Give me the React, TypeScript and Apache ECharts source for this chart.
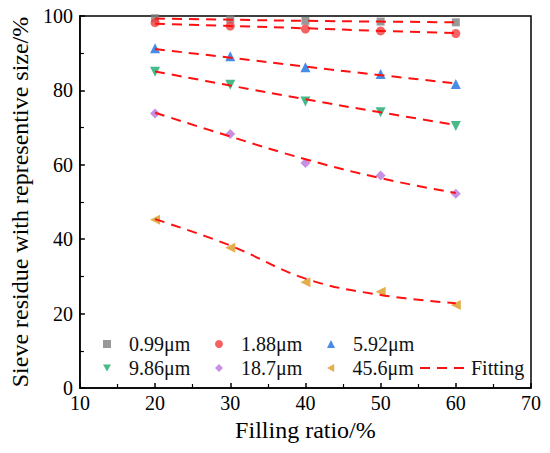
import React, { useEffect, useRef } from "react";
import * as echarts from "echarts";

const fillingRatio = [20, 30, 40, 50, 60];
const seriesNames = ["0.99μm", "1.88μm", "5.92μm", "9.86μm", "18.7μm", "45.6μm"];
const s099 = [99.4, 99.1, 98.7, 98.5, 98.3];
const s188 = [98.2, 97.3, 96.5, 96.0, 95.3];
const s592 = [91.3, 89.2, 86.2, 84.4, 81.7];
const s986 = [85.0, 81.5, 77.0, 74.1, 70.4];
const s187 = [73.8, 68.3, 60.5, 57.1, 52.2];
const s456 = [45.2, 37.7, 28.4, 25.9, 22.3];
const fit099 = [99.3, 99.0, 98.7, 98.5, 98.3];
const fit188 = [97.9, 97.3, 96.7, 96.0, 95.4];
const fit592 = [91.1, 88.8, 86.4, 84.1, 81.9];
const fit986 = [85.1, 81.3, 77.6, 74.1, 70.7];
const fit187 = [74.0, 67.6, 61.5, 56.4, 52.4];
const fit456 = [45.4, 38.3, 29.4, 25.0, 22.8];
const xTicks = [10, 20, 30, 40, 50, 60, 70];
const yTicks = [0, 20, 40, 60, 80, 100];

const values = [s099, s188, s592, s986, s187, s456];
const fits = [fit099, fit188, fit592, fit986, fit187, fit456];
const colors = ["#808080", "#f03c3c", "#1a6fdf", "#1aa86a", "#b874de", "#dc9a1e"];
const symbols = [
  "rect",
  "circle",
  "triangle",
  "path://M0,0 L10,0 L5,9 Z",
  "diamond",
  "path://M0,5 L9,0 L9,10 Z",
];
const symbolSizes = [8, 9, 10, 10, 10, 10];

const FONT = "Liberation Serif";

export default function App() {
  const ref = useRef<HTMLDivElement>(null);
  useEffect(() => {
    if (!ref.current) return;
    const chart = echarts.init(ref.current, undefined, { renderer: "svg" });
    const scatterSeries = seriesNames.map((name, i) => ({
      name,
      type: "scatter",
      data: fillingRatio.map((x, j) => [x, values[i][j]]),
      symbol: symbols[i],
      symbolSize: symbolSizes[i],
      itemStyle: { color: colors[i] },
      z: 2,
    }));
    const fitSeries = fits.map((f) => ({
      name: "Fitting",
      type: "line",
      data: fillingRatio.map((x, j) => [x, f[j]]),
      smooth: 0.4,
      showSymbol: false,
      symbol: "none",
      lineStyle: { color: "#ff1010", width: 2, type: [10, 7] },
      itemStyle: { color: "#ff1010" },
      z: 3,
    }));
    const legends: any[] = seriesNames.map((name, i) => ({
      data: [name],
      left: 103 + (i % 3) * 112,
      top: i < 3 ? 334 : 358,
      orient: "horizontal",
      padding: 0,
      itemWidth: 8,
      itemHeight: 8,
      itemGap: 0,
      textStyle: { fontFamily: FONT, fontSize: 20, color: "#111", padding: [0, 0, 0, 13] },
    }));
    legends.push({
      data: ["Fitting"],
      left: 419,
      top: 358,
      orient: "horizontal",
      padding: 0,
      itemWidth: 46,
      itemHeight: 8,
      itemGap: 0,
      itemStyle: { opacity: 0 },
      lineStyle: { type: [10, 7], width: 2, color: "#ff1010" },
      textStyle: { fontFamily: FONT, fontSize: 20, color: "#111" },
    });

    chart.setOption({
      animation: false,
      backgroundColor: "#ffffff",
      textStyle: { fontFamily: FONT },
      grid: {
        left: 70,
        right: 19,
        top: 16,
        bottom: 65,
        show: true,
        borderColor: "#000",
        borderWidth: 1.5,
      },
      legend: legends,
      xAxis: {
        type: "value",
        min: xTicks[0],
        max: xTicks[xTicks.length - 1],
        interval: 10,
        name: "Filling ratio/%",
        nameLocation: "middle",
        nameGap: 30,
        nameTextStyle: { fontFamily: FONT, fontSize: 24, color: "#000" },
        axisLine: { show: true, lineStyle: { color: "#000", width: 1.5 } },
        axisTick: { show: true, inside: true, length: 5, lineStyle: { color: "#000", width: 1.5 } },
        minorTick: { show: true, splitNumber: 2, length: 4, lineStyle: { color: "#000", width: 1.2 } },
        axisLabel: { fontFamily: FONT, fontSize: 20, color: "#000", margin: 5 },
        splitLine: { show: false },
      },
      yAxis: {
        type: "value",
        min: yTicks[0],
        max: yTicks[yTicks.length - 1],
        interval: 20,
        name: "Sieve residue with representive size/%",
        nameLocation: "middle",
        nameGap: 38,
        nameTextStyle: { fontFamily: FONT, fontSize: 24, color: "#000" },
        axisLine: { show: true, lineStyle: { color: "#000", width: 1.5 } },
        axisTick: { show: true, inside: true, length: 5, lineStyle: { color: "#000", width: 1.5 } },
        minorTick: { show: true, splitNumber: 2, length: 4, lineStyle: { color: "#000", width: 1.2 } },
        axisLabel: { fontFamily: FONT, fontSize: 20, color: "#000", margin: 7 },
        splitLine: { show: false },
      },
      series: [...scatterSeries, ...fitSeries],
    });
    return () => chart.dispose();
  }, []);
  return (
    <div
      ref={ref}
      style={{ position: "absolute", left: 0, top: 0, width: 550, height: 453 }}
    />
  );
}
